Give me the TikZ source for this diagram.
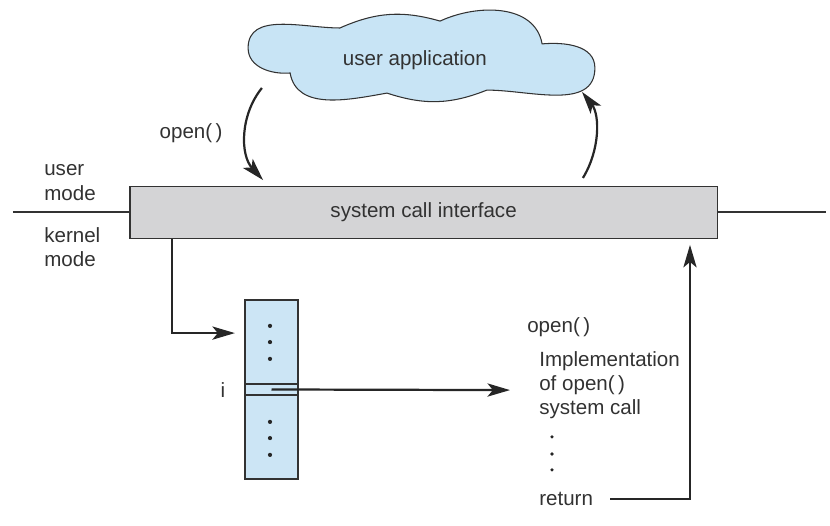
\documentclass[tikz,border=0pt]{standalone}
\usepackage{fontspec}
\setmainfont{Liberation Sans}
\usetikzlibrary{arrows.meta}

\definecolor{cloudblue}{RGB}{200,228,245}
\definecolor{tableblue}{RGB}{204,229,245}
\definecolor{ifacegray}{RGB}{212,212,214}
\definecolor{inkgray}{RGB}{50,50,50}

\begin{document}
\begin{tikzpicture}[
    lbl/.style={font=\fontsize{19.5}{23}\selectfont, text=inkgray, inner sep=0pt},
    frame/.style={draw=inkgray, line width=1.2pt},
    conn/.style={line width=2.1pt, draw=black!85},
    dot/.style={circle, fill=black!85, inner sep=0pt, minimum size=1.4mm},
    >={Stealth[length=7.5mm, width=4.4mm, inset=1.8mm]}
]
\useasboundingbox (0,0) rectangle (27.667,17.533);

% --- user side ---
% cloud outline, clockwise from the left tip
\draw[frame, line width=1pt, fill=cloudblue]
    (8.27,15.93) to[out=90, in=180] (11.33,16.6)
    to[bend left=20] (14.67,16.83)
    to[out=25, in=100] (18.07,16.07)
    to[out=5, in=90] (19.83,15.27)
    to[out=-90, in=0] (16.23,14.53)
    to[bend left=20] (12.9,14.43)
    to[out=190, in=-80] (9.67,15.1)
    to[out=185, in=-90] (8.27,15.93) -- cycle;
\node[lbl] (app) at (13.83,15.53) {user application};

\node[frame, fill=ifacegray, minimum width=19.57cm, minimum height=1.73cm, lbl]
      (sci) at (14.12,10.45) {system call interface};

% mode line
\coordinate (model) at (0.43,10.47);
\coordinate (moder) at (27.53,10.47);
\draw[line width=1.2pt, draw=inkgray] (model) -- (model -| sci.west);
\draw[line width=1.2pt, draw=inkgray] (sci.east |- moder) -- (moder);

\node[lbl, align=left, anchor=west] (umode) at (1.47,11.45) {user\\mode};
\node[lbl, align=left, anchor=west] (kmode) at (1.47,9.3) {kernel\\mode};

% call and return arrows
\node[lbl] (opencall) at (6.37,13.1) {open(\,)};
\coordinate (callbeg) at (8.73,14.6);
\coordinate (callend) at (8.77,11.53);
\draw[conn,->] (callbeg) .. controls (8.0,13.7) and (8.0,12.37) .. (callend);

\coordinate (backbeg) at (19.43,11.6);
\coordinate (backend) at (19.4,14.47);
\draw[conn,->] (backbeg) .. controls (20.0,12.53) and (20.0,13.7) .. (backend);

% --- kernel side ---
\node[frame, fill=tableblue, minimum width=1.77cm, minimum height=5.97cm]
      (tbl) at (9.05,4.55) {};
\node[frame, minimum width=1.77cm, minimum height=0.37cm] (slot) at (tbl.center) {};
\foreach \y [count=\k] in {6.67,6.13,5.57,3.47,2.93,2.37}
    \node[dot] (tdot\k) at (9.0,\y) {};
\node[lbl] (idx) at (7.43,4.53) {i};

% dispatch into the table
\coordinate (disp) at (5.73,6.43);
\coordinate (tblin) at (7.83,6.43);
\draw[conn,->] (sci.south -| disp) |- (tblin);

% implementation
\node[lbl, anchor=west] (openhead) at (17.57,6.63) {open(\,)};
\node[lbl, align=left, anchor=west] (impl) at (17.97,4.7)
      {Implementation\\of open(\,)\\system call};
\foreach \y [count=\k] in {2.97,2.4,1.87}
    \node[dot, minimum size=1.2mm] (idot\k) at (18.4,\y) {};
\node[lbl, anchor=west] (ret) at (17.97,0.9) {return};

\coordinate (implin) at (17.0,4.53);
\draw[conn,->] (slot.center) -- (implin);

\coordinate (retup) at (23.0,9.37);
\draw[conn,->] ([xshift=5.7mm]ret.east) -| (retup);

\end{tikzpicture}
\end{document}
